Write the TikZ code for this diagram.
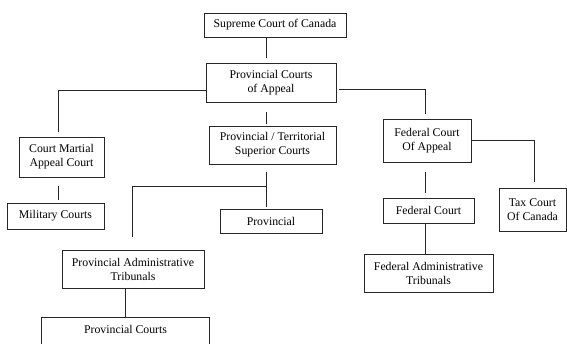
\documentclass[tikz,border=0pt]{standalone}
\usepackage{fontspec}
\setmainfont{Liberation Serif}
\begin{document}
\begin{tikzpicture}[x=1pt,y=-1pt,
  box/.style={draw=black!85,line width=0.9pt,rectangle,inner sep=0pt,align=center,
    font=\fontsize{11.8}{14}\selectfont},
  conn/.style={draw=black!85,line width=0.8pt}]
\useasboundingbox (0,0) rectangle (567,344);
\clip (0,0) rectangle (567,344);
\node[box,minimum width=142pt,minimum height=24pt] (sc) at (275,25) {Supreme Court of Canada};
\node[box,minimum width=130pt,minimum height=39pt] (pca) at (271,82.5) {Provincial Courts\\of Appeal};
\node[box,minimum width=85pt,minimum height=40pt] (cm) at (61.5,157) {Court Martial\\Appeal Court};
\node[box,minimum width=127pt,minimum height=38pt] (pts) at (272.5,145) {Provincial / Territorial\\Superior Courts};
\node[box,minimum width=88pt,minimum height=43pt] (fca) at (427,140.5) {Federal Court\\Of Appeal};
\node[box,minimum width=97pt,minimum height=26pt] (mil) at (55.5,216) {Military Courts};
\node[box,minimum width=102pt,minimum height=24pt] (prov) at (271,221) {Provincial};
\node[box,minimum width=142pt,minimum height=38pt] (pat) at (133,269) {Provincial Administrative\\Tribunals};
\node[box,minimum width=167.6pt,text height=12.6pt,text depth=22pt,inner ysep=4pt,anchor=north] (pc) at (125.5,316.7) {Provincial Courts};
\node[box,minimum width=91pt,minimum height=25pt] (fc) at (428.5,210.5) {Federal Court};
\node[box,minimum width=129pt,minimum height=38pt] (fat) at (428.5,273) {Federal Administrative\\Tribunals};
\node[box,minimum width=67pt,minimum height=43pt] (tax) at (532.5,209.5) {Tax Court\\Of Canada};
% connectors
\draw[conn] ([xshift=-9pt]sc.south) -- ([xshift=-5pt,yshift=5pt]pca.north);
\draw[conn] ([yshift=-7.5pt]pca.west) -| ([xshift=-2.8pt,yshift=5pt]cm.north);
\draw[conn] ([xshift=3pt,yshift=-7pt]pca.east) -| ([xshift=-1.7pt,yshift=5pt]fca.north);
\draw[conn] ([xshift=-5pt,yshift=-10pt]pca.south) -- ([xshift=-6.5pt,yshift=2pt]pts.north);
\draw[conn] ([xshift=-2.8pt,yshift=-9pt]cm.south) -- ([xshift=3.2pt,yshift=3pt]mil.north);
\coordinate (j) at ([xshift=-6.5pt,yshift=-22pt]pts.south);
\draw[conn] ([xshift=-6.5pt,yshift=-8pt]pts.south) -- ([xshift=-6.5pt,yshift=2pt]pts.south |- prov.north);
\draw[conn] (j) -| ([xshift=-1pt,yshift=13pt]pat.north);
\draw[conn] (pat.south -| pc.north) -- (pc.north);
\draw[conn] ([xshift=-1.7pt,yshift=-9.7pt]fca.south) -- ([xshift=-3.2pt,yshift=4.5pt]fc.north);
\draw[conn] ([xshift=-3.2pt]fc.south) -- ([xshift=-3.2pt]fat.north);
\draw[conn] (fca.east) -| ([xshift=1.8pt,yshift=5.3pt]tax.north);
\end{tikzpicture}
\end{document}
